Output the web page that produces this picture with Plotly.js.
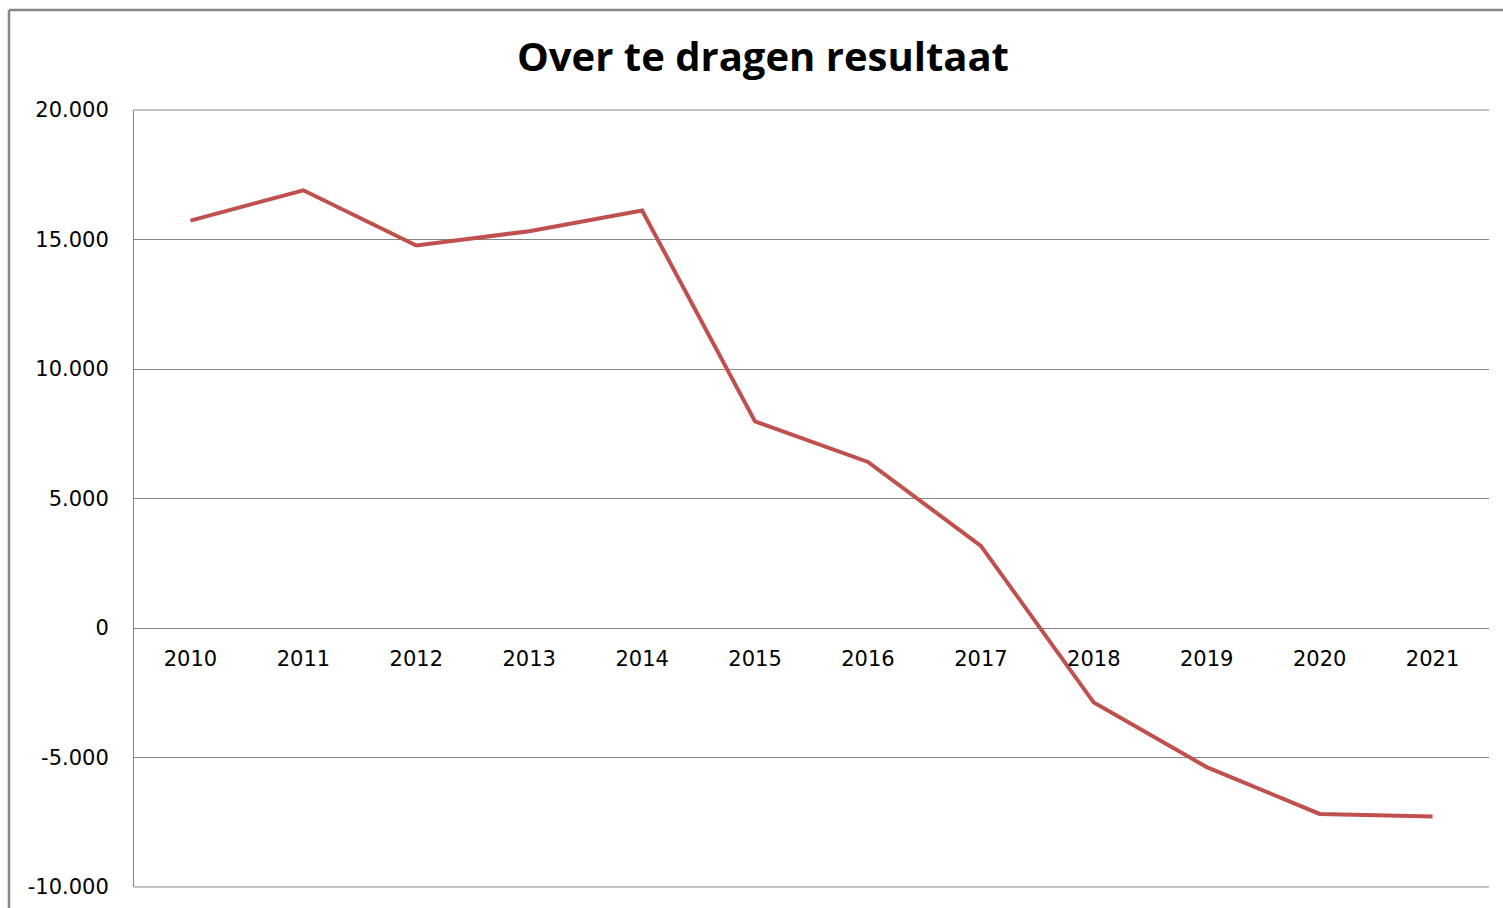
<!DOCTYPE html>
<html>
<head>
<meta charset="utf-8">
<script src="https://cdn.plot.ly/plotly-3.0.1.min.js"></script>
<style>
html,body{margin:0;padding:0;background:#fff;}
#chart{width:1503px;height:908px;}
</style>
</head>
<body>
<div id="chart"></div>
<script>
const years = ["2010","2011","2012","2013","2014","2015","2016","2017","2018","2019","2020","2021"];
const resultaat = [15730, 16900, 14770, 15320, 16120, 7980, 6410, 3170, -2880, -5370, -7180, -7280];
const yTickVals = [-10000, -5000, 0, 5000, 10000, 15000, 20000];
const yTickText = ["-10.000", "-5.000", "0", "5.000", "10.000", "15.000", "20.000"];
const chartTitle = "Over te dragen resultaat";

const W = 1503, H = 908;
const mL = 134, mR = 14, mT = 110, mB = 21;
const pw = W - mL - mR, ph = H - mT - mB;
const px = x => (x - mL) / pw;
const py = y => (H - mB - y) / ph;

const trace = {
  x: years,
  y: resultaat,
  type: 'scatter',
  mode: 'lines',
  line: {color: '#C0504D', width: 4},
  hoverinfo: 'x+y'
};

const gridCol = '#868686';

const layout = {
  width: W, height: H,
  margin: {l: mL, r: mR, t: mT, b: mB, pad: 0},
  paper_bgcolor: '#fff',
  plot_bgcolor: '#fff',
  showlegend: false,
  title: {
    text: '<b>' + chartTitle + '</b>',
    font: {family: 'Open Sans, sans-serif', size: 40, color: '#000'},
    x: 763 / W, xref: 'container', xanchor: 'center',
    y: 1 - 57 / H, yref: 'container', yanchor: 'middle'
  },
  xaxis: {
    type: 'category',
    range: [-0.5, 11.5],
    anchor: 'free',
    position: py(627.5),
    showgrid: false,
    zeroline: false,
    showline: false,
    ticks: '',
    ticklabelstandoff: 16,
    tickfont: {family: 'DejaVu Sans, sans-serif', size: 21, color: '#000'},
    fixedrange: true
  },
  yaxis: {
    range: [-10000, 20000],
    tickvals: yTickVals,
    ticktext: yTickText,
    showgrid: true,
    gridcolor: gridCol,
    gridwidth: 1,
    zeroline: false,
    showline: true,
    linecolor: gridCol,
    linewidth: 1,
    ticks: '',
    ticklabelstandoff: 20,
    tickfont: {family: 'DejaVu Sans, sans-serif', size: 21, color: '#000'},
    fixedrange: true
  },
  shapes: [
    {type: 'line', xref: 'paper', yref: 'paper', x0: 0, x1: 1, y0: 1, y1: 1,
     line: {color: gridCol, width: 1}, layer: 'below'},
    {type: 'line', xref: 'paper', yref: 'paper', x0: 0, x1: 1, y0: 0, y1: 0,
     line: {color: gridCol, width: 1}, layer: 'below'},
    {type: 'line', xref: 'paper', yref: 'paper', x0: px(9), x1: px(9), y0: py(930), y1: py(10),
     line: {color: '#878787', width: 2.5}},
    {type: 'line', xref: 'paper', yref: 'paper', x0: px(9), x1: px(1530), y0: py(10), y1: py(10),
     line: {color: '#878787', width: 2.5}}
  ]
};

Plotly.newPlot('chart', [trace], layout, {displayModeBar: false, staticPlot: true});
</script>
</body>
</html>
